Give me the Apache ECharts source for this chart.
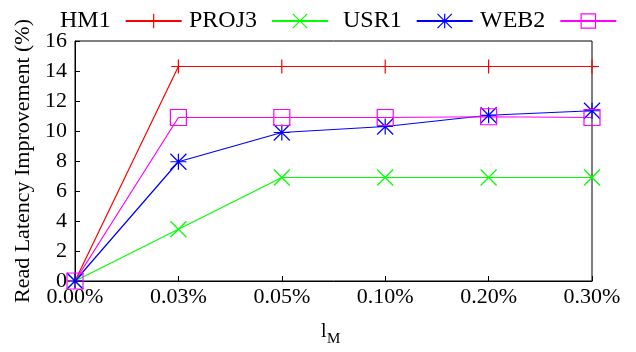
<!DOCTYPE html>
<html>
<head>
<meta charset="utf-8">
<script src="https://cdn.jsdelivr.net/npm/echarts@6/dist/echarts.min.js"></script>
<style>html,body{margin:0;padding:0;background:#fff;}#c{width:636px;height:352px;}</style>
</head>
<body>
<div id="c"></div>
<script>
const categories = ['0.00%', '0.03%', '0.05%', '0.10%', '0.20%', '0.30%'];
const seriesNames = ['HM1', 'PROJ3', 'USR1', 'WEB2'];
const hm1 = [0, 14.3, 14.3, 14.3, 14.3, 14.3];
const proj3 = [0, 3.45, 6.9, 6.9, 6.9, 6.9];
const usr1 = [0, 7.95, 9.9, 10.3, 11.05, 11.35];
const web2 = [0, 10.9, 10.9, 10.9, 10.95, 10.9];
const yTicks = [0, 2, 4, 6, 8, 10, 12, 14, 16];
const xTitleMain = 'l';
const xTitleSub = 'M';
const yTitle = 'Read Latency Improvement (%)';

const seriesData = [hm1, proj3, usr1, web2];
const colors = ['#ff0000', '#00ff00', '#0000ff', '#ff00ff'];
const symbols = [
  'path://M0,5L10,5M5,0L5,10',
  'path://M0,0L10,10M10,0L0,10',
  'path://M0,5L10,5M5,0L5,10M0,0L10,10M10,0L0,10',
  'path://M0,0L10,0L10,10L0,10Z'
];
const symbolSizes = [14, 16, 16, 16];
const legendLeft = [55, 184, 338, 475];
const FONT = '"Liberation Serif", "DejaVu Serif", serif';

const chart = echarts.init(document.getElementById('c'), null, {renderer: 'canvas'});
const option = {
  animation: false,
  backgroundColor: '#fff',
  textStyle: {fontFamily: FONT, color: '#000'},
  legend: seriesNames.map((n, i) => ({
    data: [n],
    left: legendLeft[i],
    top: 4,
    align: 'right',
    itemWidth: 56,
    itemHeight: 18,
    itemGap: 0,
    selectedMode: false,
    textStyle: {fontFamily: FONT, fontSize: 24, color: '#000', padding: [0, 10, 0, 0]},
    itemStyle: {borderWidth: 1.2}
  })),
  grid: {left: 75, right: 44, top: 41, bottom: 71, show: true, borderColor: '#000', borderWidth: 1, backgroundColor: 'transparent'},
  graphic: [
    {type: 'text', left: 321, top: 322, style: {text: xTitleMain, fontFamily: FONT, fontSize: 20, fill: '#000'}},
    {type: 'text', left: 327, top: 332, style: {text: xTitleSub, fontFamily: FONT, fontSize: 15, fill: '#000'}}
  ],
  xAxis: {
    type: 'category',
    data: categories,
    boundaryGap: false,
    axisLine: {lineStyle: {color: '#000', width: 1}},
    axisTick: {inside: true, length: 5, alignWithLabel: true, lineStyle: {color: '#000'}},
    axisLabel: {fontFamily: FONT, fontSize: 22, color: '#000', margin: 5, interval: 0},
    splitLine: {show: false}
  },
  yAxis: {
    type: 'value',
    min: yTicks[0],
    max: yTicks[yTicks.length - 1],
    interval: 2,
    name: yTitle,
    nameLocation: 'middle',
    nameGap: 35,
    nameTextStyle: {fontFamily: FONT, fontSize: 22, color: '#000'},
    axisLine: {show: true, lineStyle: {color: '#000', width: 1}},
    axisTick: {show: true, inside: true, length: 5, lineStyle: {color: '#000'}},
    axisLabel: {fontFamily: FONT, fontSize: 22, color: '#000', margin: 8},
    splitLine: {show: false}
  },
  series: seriesNames.map((n, i) => ({
    name: n,
    type: 'line',
    data: seriesData[i],
    symbol: symbols[i],
    symbolSize: symbolSizes[i],
    showAllSymbol: true,
    lineStyle: {color: colors[i], width: 1.2},
    itemStyle: {color: 'transparent', borderColor: colors[i], borderWidth: 1.2},
    emphasis: {disabled: true}
  }))
};
chart.setOption(option);
</script>
</body>
</html>
